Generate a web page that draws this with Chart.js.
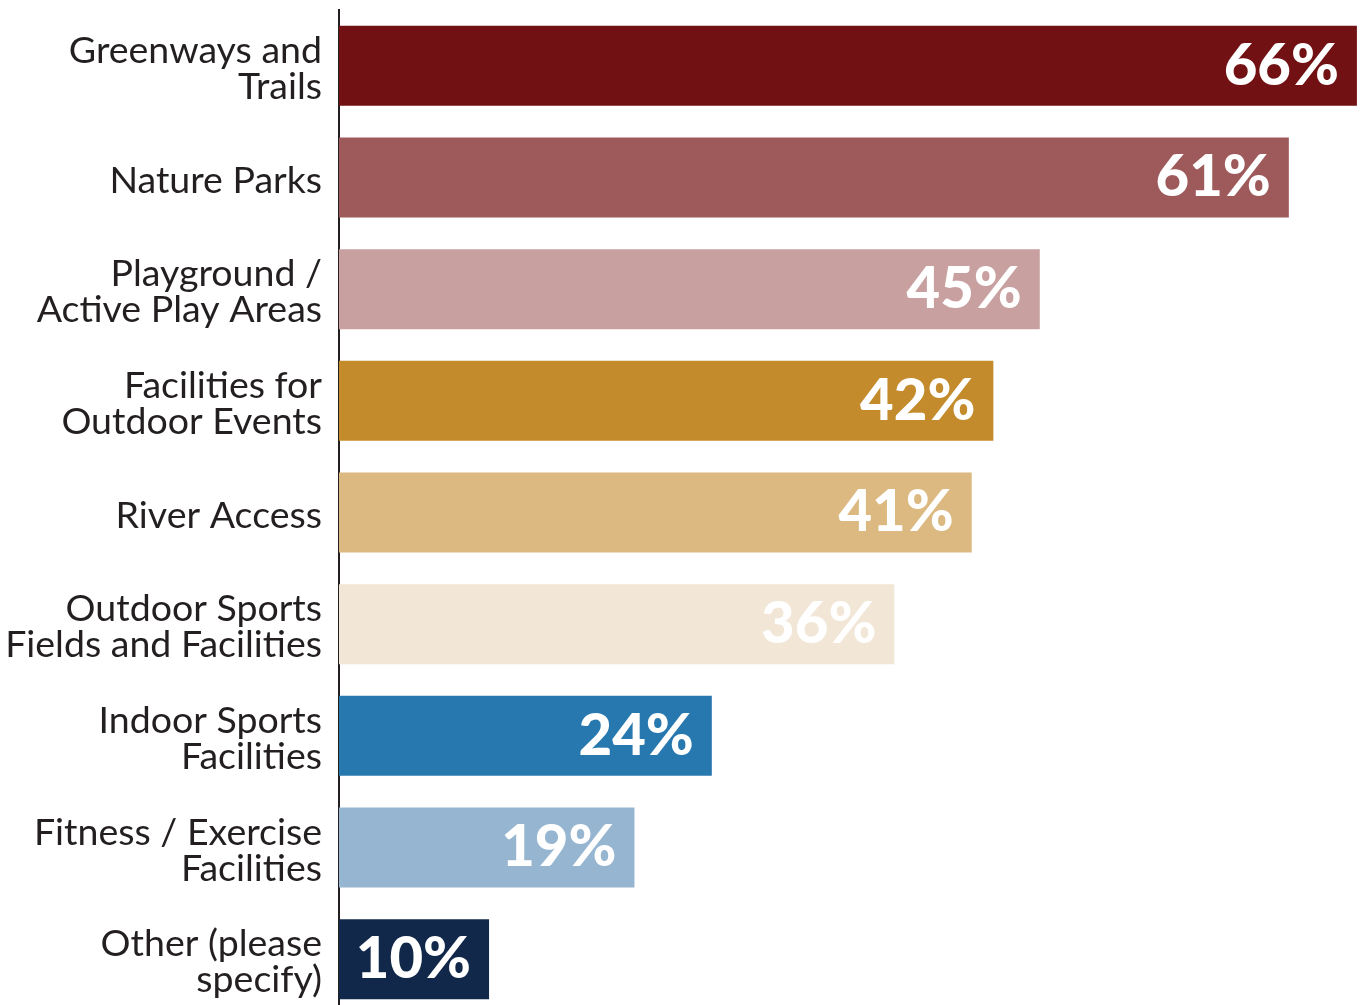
<!DOCTYPE html>
<html>
<head>
<meta charset="utf-8">
<script src="https://cdn.jsdelivr.net/npm/chart.js@4.4.1/dist/chart.umd.min.js"></script>
<style>
  html, body { margin: 0; padding: 0; background: #ffffff; overflow: hidden; }
  #wrap { position: relative; width: 1360px; height: 1016px; }
</style>
</head>
<body>
<div id="wrap"><canvas id="c"></canvas></div>
<script>
const categories = [
  ["Greenways and", "Trails"],
  "Nature Parks",
  ["Playground /", "Active Play Areas"],
  ["Facilities for", "Outdoor Events"],
  "River Access",
  ["Outdoor Sports", "Fields and Facilities"],
  ["Indoor Sports", "Facilities"],
  ["Fitness / Exercise", "Facilities"],
  ["Other (please", "specify)"]
];
const values = [65.8, 61.4, 45.3, 42.3, 40.9, 35.9, 24.1, 19.1, 9.7];
const valueLabels = ["66%", "61%", "45%", "42%", "41%", "36%", "24%", "19%", "10%"];
const barColors = ["#721113", "#9e5a5b", "#c8a0a0", "#c48b2c", "#ddb982", "#f2e6d6", "#2878b0", "#96b5d0", "#12284a"];

const FONT = "Lato, 'Open Sans', sans-serif";

const labelPlugin = {
  id: 'barValueLabels',
  afterDatasetsDraw(chart) {
    const ctx = chart.ctx;
    const meta = chart.getDatasetMeta(0);
    ctx.save();
    ctx.font = "900 58px " + FONT;
    ctx.fillStyle = "#ffffff";
    ctx.textAlign = "right";
    ctx.textBaseline = "middle";
    meta.data.forEach((bar, i) => {
      ctx.fillText(valueLabels[i], bar.x - 18, bar.y);
    });
    ctx.restore();
  }
};

new Chart(document.getElementById('c'), {
  type: 'bar',
  data: {
    labels: categories,
    datasets: [{
      data: values,
      backgroundColor: barColors,
      borderWidth: 0,
      barPercentage: 1,
      categoryPercentage: 0.716
    }]
  },
  options: {
    indexAxis: 'y',
    responsive: true,
    maintainAspectRatio: false,
    animation: false,
    layout: { padding: { top: 10, bottom: 1, left: 0, right: 0 } },
    plugins: { legend: { display: false }, tooltip: { enabled: false } },
    scales: {
      x: {
        display: false,
        min: 0,
        max: 66
      },
      y: {
        grid: { display: false, drawTicks: false },
        border: { display: true, color: "#231f20", width: 2 },
        ticks: {
          color: "#231f20",
          font: { family: FONT, size: 37.5, lineHeight: 0.96 },
          padding: 17,
          labelOffset: 3,
          autoSkip: false
        },
        afterFit(scale) {
          scale.width = 339;
          scale.paddingTop = 0;
          scale.paddingBottom = 0;
        }
      }
    }
  },
  plugins: [labelPlugin]
});
</script>
</body>
</html>
